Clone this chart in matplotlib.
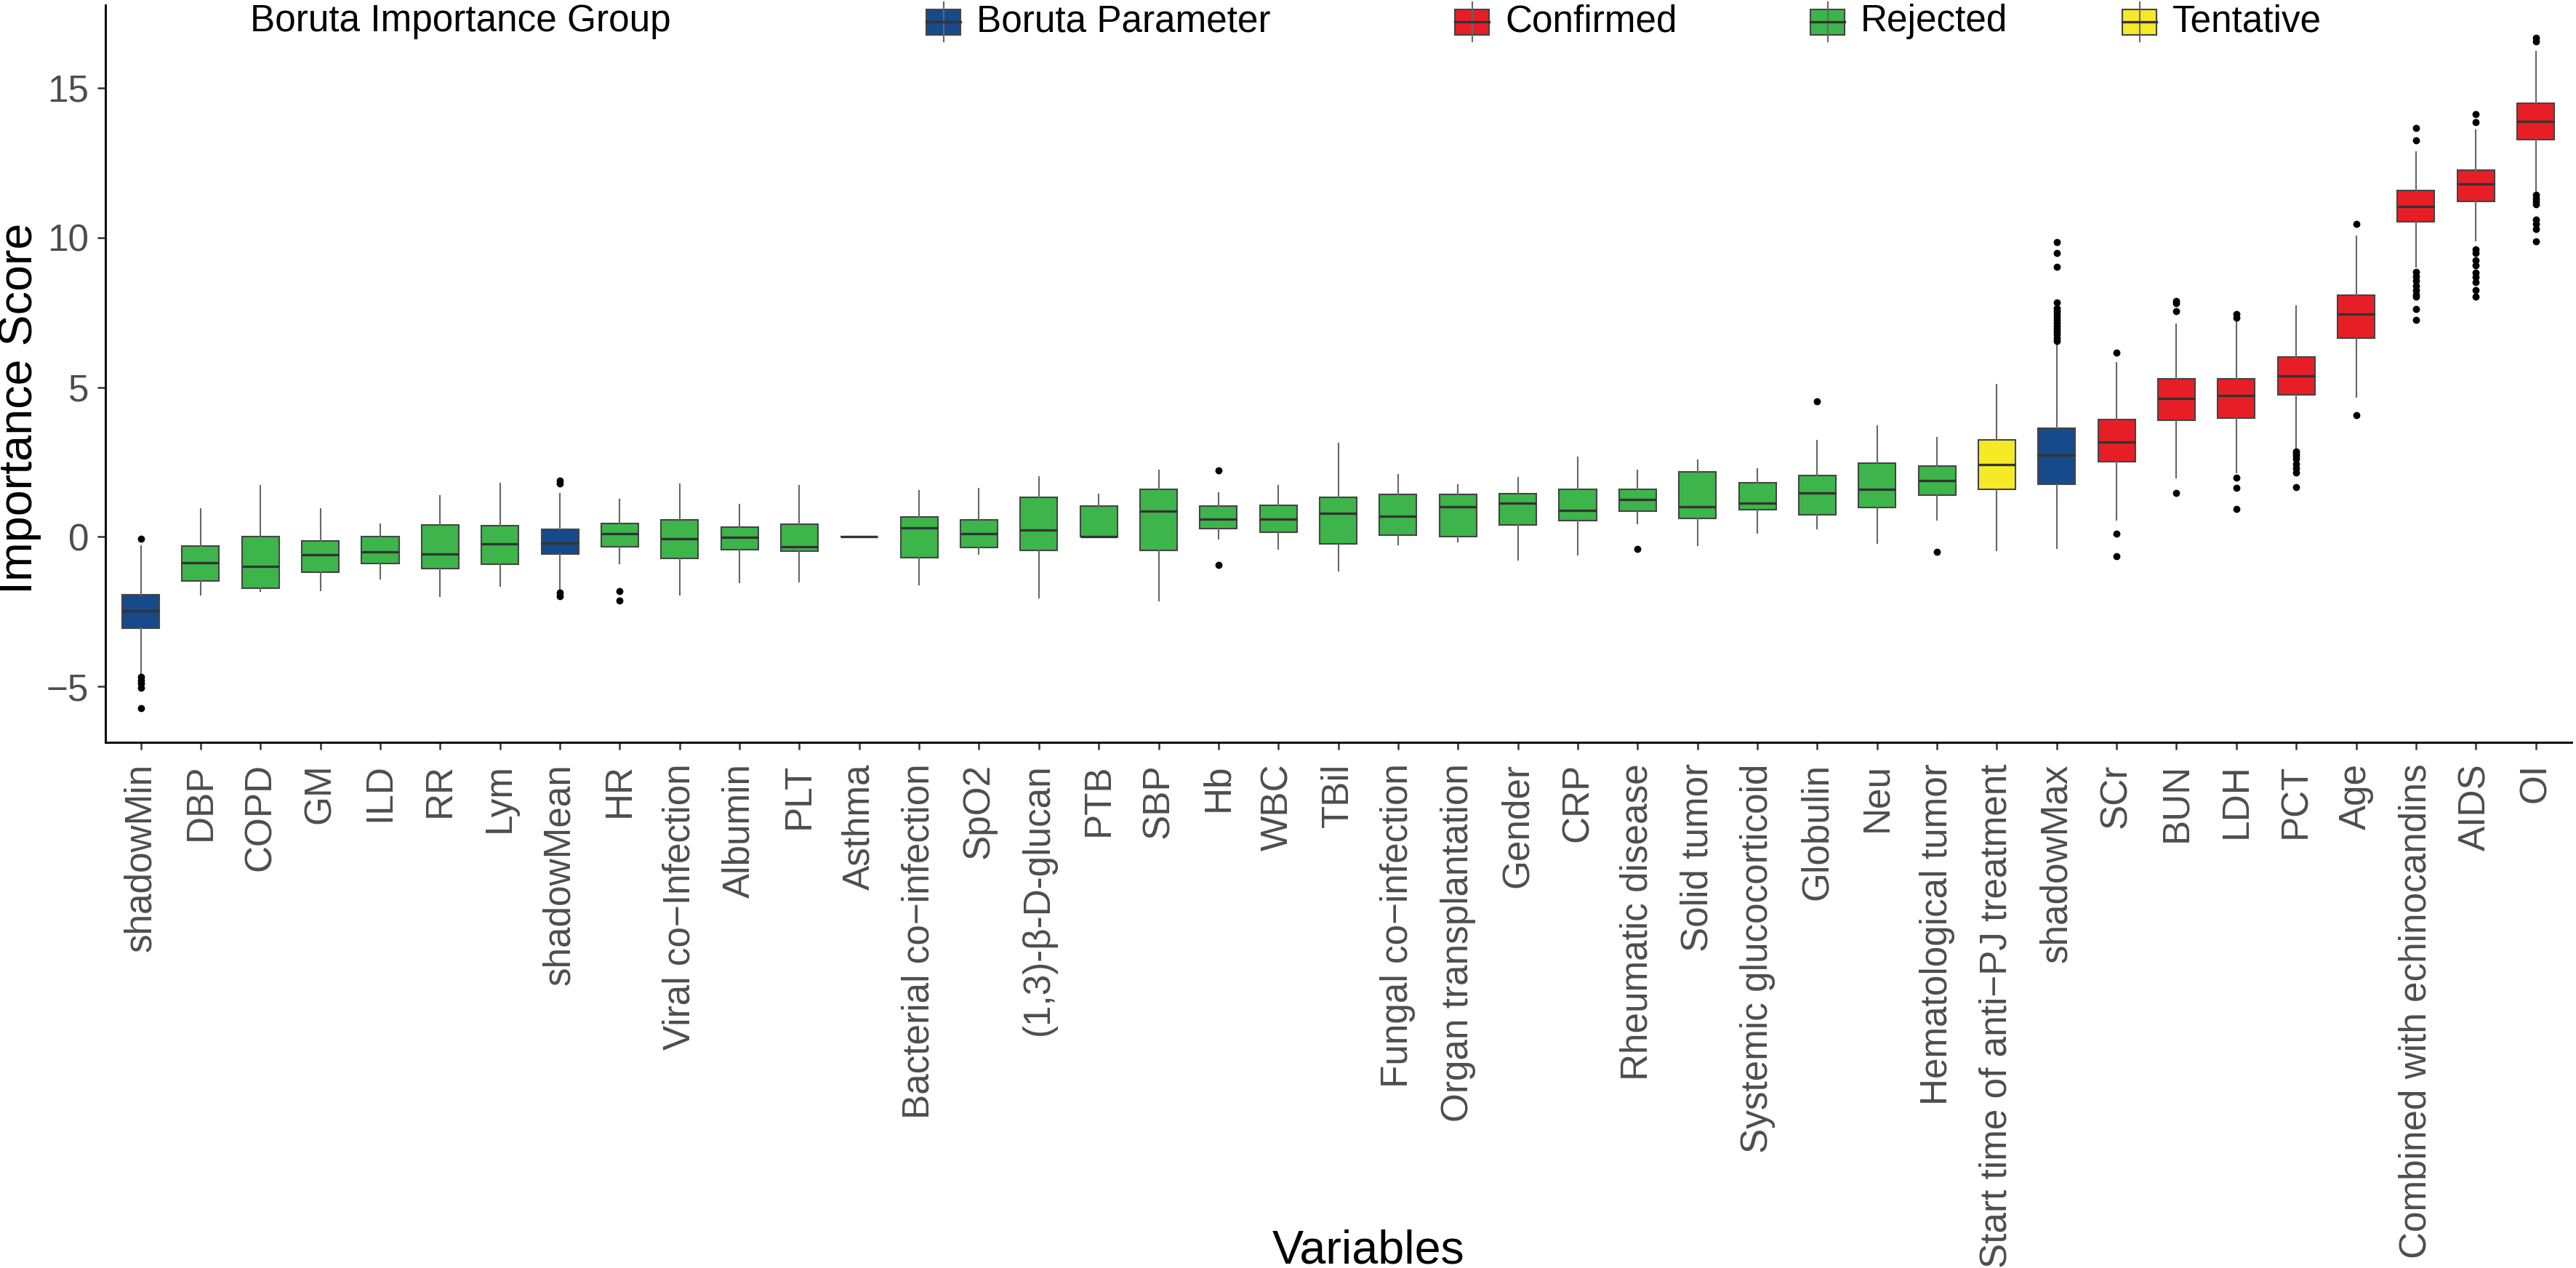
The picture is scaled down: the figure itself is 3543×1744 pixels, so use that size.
import matplotlib
matplotlib.use('Agg')
import matplotlib.pyplot as plt
from matplotlib.patches import Rectangle
from matplotlib.lines import Line2D

plt.rcParams['font.family'] = ['Liberation Sans', 'DejaVu Sans']

# variables, in plot order
variables = ['shadowMin', 'DBP', 'COPD', 'GM', 'ILD', 'RR', 'Lym', 'shadowMean', 'HR',
             'Viral co\u2212Infection', 'Albumin', 'PLT', 'Asthma', 'Bacterial co\u2212infection',
             'SpO2', '(1,3)-\u03b2-D-glucan', 'PTB', 'SBP', 'Hb', 'WBC', 'TBil',
             'Fungal co\u2212infection', 'Organ transplantation', 'Gender', 'CRP',
             'Rheumatic disease', 'Solid tumor', 'Systemic glucocorticoid', 'Globulin', 'Neu',
             'Hematological tumor', 'Start time of anti\u2212PJ treatment', 'shadowMax', 'SCr',
             'BUN', 'LDH', 'PCT', 'Age', 'Combined with echinocandins', 'AIDS', 'OI']

groups = (['Boruta Parameter'] + ['Rejected'] * 6 + ['Boruta Parameter'] + ['Rejected'] * 23
          + ['Tentative', 'Boruta Parameter'] + ['Confirmed'] * 8)

# box statistics
whishi = [-0.31, 0.94, 1.72, 0.94, 0.42, 1.38, 1.79, 1.45, 1.24, 1.77, 1.07, 1.72, 0.0,
          1.53, 1.61, 2.00, 1.43, 2.23, 1.48, 1.72, 3.11, 2.07, 1.74, 1.98, 2.65, 2.23,
          2.55, 2.26, 3.22, 3.71, 3.32, 5.09, 6.42, 5.82, 7.11, 7.20, 7.71, 10.05, 12.85,
          13.58, 16.20]
q3 = [-1.93, -0.31, 0.00, -0.13, 0.00, 0.39, 0.37, 0.26, 0.46, 0.57, 0.33, 0.42, 0.0,
      0.67, 0.57, 1.32, 1.02, 1.58, 1.02, 1.06, 1.33, 1.43, 1.41, 1.45, 1.58, 1.58,
      2.18, 1.82, 2.05, 2.46, 2.36, 3.24, 3.64, 3.92, 5.27, 5.28, 6.02, 8.08, 11.56,
      12.26, 14.49]
med = [-2.46, -0.86, -0.99, -0.60, -0.49, -0.57, -0.24, -0.20, 0.10, -0.05, -0.02, -0.34,
       0.0, 0.31, 0.10, 0.24, 0.00, 0.85, 0.60, 0.60, 0.80, 0.70, 1.01, 1.12, 0.88, 1.24,
       1.01, 1.12, 1.46, 1.58, 1.89, 2.41, 2.73, 3.17, 4.63, 4.72, 5.37, 7.43, 11.04,
       11.79, 13.87]
q1 = [-3.04, -1.48, -1.72, -1.17, -0.89, -1.06, -0.91, -0.57, -0.34, -0.72, -0.42, -0.47,
      0.0, -0.70, -0.36, -0.46, 0.00, -0.46, 0.29, 0.15, -0.23, 0.07, 0.02, 0.39, 0.54,
      0.86, 0.62, 0.91, 0.73, 0.99, 1.40, 1.58, 1.77, 2.50, 3.89, 3.97, 4.75, 6.65, 10.52,
      11.20, 13.27]
whislo = [-4.55, -1.93, -1.82, -1.79, -1.40, -1.97, -1.63, -1.74, -0.88, -1.93, -1.53,
          -1.50, 0.0, -1.59, -0.57, -2.03, 0.00, -2.13, -0.05, -0.41, -1.12, -0.26, -0.15,
          -0.76, -0.60, 0.46, -0.29, 0.13, 0.28, -0.20, 0.57, -0.46, -0.37, 0.57, 1.97,
          2.15, 2.94, 4.68, 9.01, 9.90, 11.48]
outliers = [
    [-0.05, -4.67, -4.80, -4.90, -5.04, -5.71],
    [], [], [], [], [], [],
    [1.89, 1.79, -1.87, -1.97],
    [-1.82, -2.13],
    [], [], [], [], [], [], [], [], [],
    [2.21, -0.94],
    [], [], [], [], [], [],
    [-0.39],
    [], [],
    [4.52],
    [],
    [-0.49],
    [],
    [9.85, 9.48, 9.01, 7.84, 7.63, 7.55, 7.45, 7.35, 7.25, 7.15, 7.05, 6.95, 6.85, 6.75,
     6.65, 6.55],
    [6.15, 0.10, -0.65],
    [7.89, 7.80, 7.53, 1.48],
    [7.45, 7.33, 1.97, 1.63, 0.93],
    [2.86, 2.78, 2.70, 2.60, 2.45, 2.30, 2.16, 1.66],
    [10.44, 4.07],
    [13.66, 13.24, 8.86, 8.70, 8.55, 8.40, 8.25, 8.10, 8.02, 7.61, 7.25],
    [14.11, 13.85, 9.61, 9.48, 9.24, 9.07, 8.83, 8.67, 8.50, 8.24, 8.02],
    [16.67, 16.54, 11.43, 11.30, 11.20, 11.10, 10.59, 10.45, 10.29, 9.87],
]

group_names = ['Boruta Parameter', 'Confirmed', 'Rejected', 'Tentative']
group_colors = {'Boruta Parameter': '#174A8B', 'Confirmed': '#E81E27',
                'Rejected': '#3DB54A', 'Tentative': '#F6EA26'}

W, H = 3543, 1744
fig = plt.figure(figsize=(W / 300, H / 300), dpi=300)
ax = fig.add_axes([145 / W, 1 - 1021 / H, (3537 - 145) / W, (1021 - 7) / H])

stats = []
for i in range(len(variables)):
    stats.append({'whislo': whislo[i], 'q1': q1[i], 'med': med[i], 'q3': q3[i],
                  'whishi': whishi[i], 'fliers': outliers[i]})

bp = ax.bxp(stats, positions=range(len(variables)), widths=0.62, patch_artist=True,
            showcaps=False,
            boxprops=dict(edgecolor='#444444', linewidth=0.5),
            whiskerprops=dict(color='#666666', linewidth=0.5),
            medianprops=dict(color='#333333', linewidth=0.8),
            flierprops=dict(marker='o', markersize=1.35, markerfacecolor='black',
                            markeredgecolor='black', linestyle='none'))
for patch, g in zip(bp['boxes'], groups):
    patch.set_facecolor(group_colors[g])

ax.set_xlim(-0.59, 40.6)
ax.set_ylim(-6.86, 17.76)
ax.set_yticks([-5, 0, 5, 10, 15])
ax.set_xticks(range(len(variables)))
ax.set_xticklabels(variables, rotation=90, fontsize=12.3, color='#4D4D4D')
ax.tick_params(axis='y', labelsize=12.3, labelcolor='#4D4D4D', length=2.6, width=0.6,
               color='#333333', pad=2.9)
ax.tick_params(axis='x', length=2.4, width=0.6, color='#333333', pad=4.6)

for s in ['top', 'right']:
    ax.spines[s].set_visible(False)
for s in ['left', 'bottom']:
    ax.spines[s].set_linewidth(0.7)
    ax.spines[s].set_color('black')

ax.set_ylabel('Importance Score', fontsize=15.5, ha='center', va='center')
ax.yaxis.set_label_coords(27 / W, 1 - 562 / H, transform=fig.transFigure)
ax.set_xlabel('Variables', fontsize=15.5, ha='center', va='baseline')
ax.xaxis.set_label_coords(1882 / W, 1 - 1738 / H, transform=fig.transFigure)

# legend along the top
fig.text(344 / W, 1 - 30 / H, 'Boruta Importance Group', fontsize=12.3, va='center', ha='left')
key_x = {'Boruta Parameter': 1274, 'Confirmed': 2001, 'Rejected': 2490, 'Tentative': 2919}
for g in group_names:
    x0 = key_x[g]
    fig.add_artist(Line2D([(x0 + 23.5) / W] * 2, [1 - 3 / H, 1 - 57 / H],
                          transform=fig.transFigure, color='#666666', linewidth=0.5))
    fig.add_artist(Rectangle((x0 / W, 1 - 48 / H), 47 / W, 35 / H, transform=fig.transFigure,
                             facecolor=group_colors[g], edgecolor='#444444', linewidth=0.5))
    fig.add_artist(Line2D([x0 / W, (x0 + 47) / W], [1 - 30 / H] * 2,
                          transform=fig.transFigure, color='#333333', linewidth=0.8))
    fig.text((x0 + 69) / W, 1 - 30 / H, g, fontsize=12.3, va='center', ha='left')

fig.savefig('out.png', dpi=300)
